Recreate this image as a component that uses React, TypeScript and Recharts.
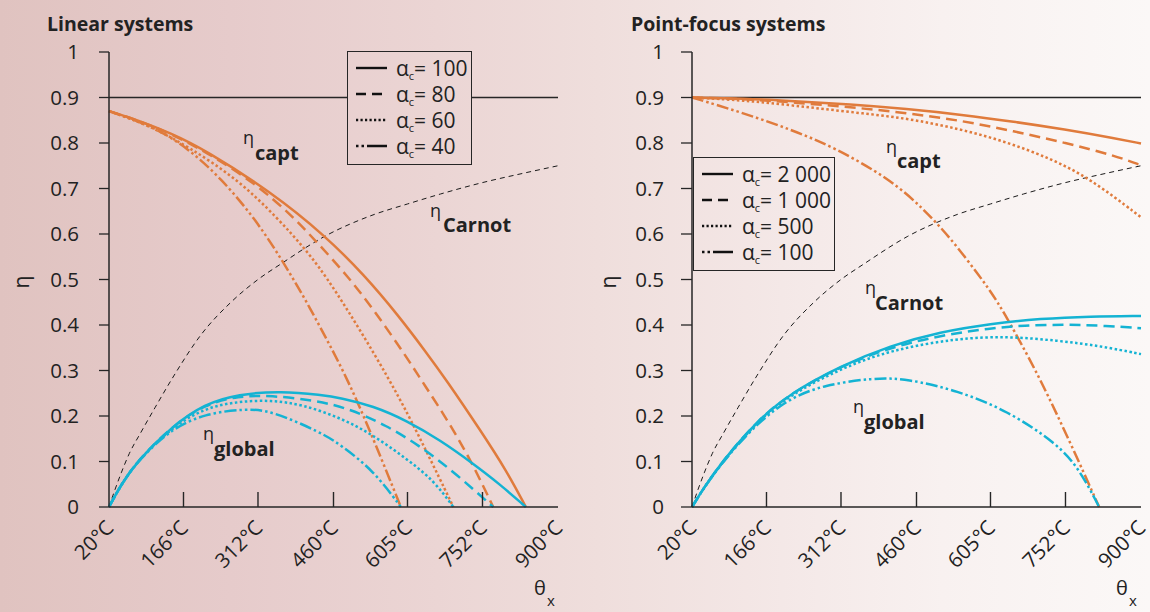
import React from 'react';
import { LineChart, Line, XAxis, YAxis, ReferenceLine } from 'recharts';

type Pt = [number, number];

const thetaTicks = [20, 166, 312, 460, 605, 752, 900];
const etaTicks = [0, 0.1, 0.2, 0.3, 0.4, 0.5, 0.6, 0.7, 0.8, 0.9, 1];

const linearAlphas = ['100', '80', '60', '40'];
const pointAlphas = ['2 000', '1 000', '500', '100'];

// Carnot efficiency, same for both panels
const carnot: Pt[] = [[20, 0], [32, 0.039], [44, 0.075], [60, 0.118], [82, 0.163], [110, 0.218], [148, 0.29], [200, 0.378], [259, 0.45], [312, 0.5], [358, 0.535], [443, 0.595], [540, 0.643], [605, 0.666], [670, 0.688], [752, 0.713], [830, 0.733], [900, 0.75]];

// linear systems: capture efficiency (alpha_c = 100, 80, 60, 40)
const linCapt100: Pt[] = [[20, 0.87], [77, 0.85], [142, 0.821], [208, 0.785], [338, 0.692], [443, 0.597], [521, 0.509], [587, 0.421], [639, 0.344], [682, 0.278], [747, 0.17], [799, 0.08], [837, 0]];
const linCapt80: Pt[] = [[20, 0.87], [77, 0.85], [142, 0.82], [208, 0.782], [306, 0.712], [378, 0.641], [430, 0.579], [489, 0.506], [541, 0.43], [600, 0.335], [639, 0.267], [688, 0.183], [734, 0.092], [773, 0]];
const linCapt60: Pt[] = [[20, 0.87], [100, 0.838], [175, 0.792], [273, 0.72], [351, 0.634], [404, 0.568], [456, 0.492], [574, 0.275], [639, 0.13], [695, 0]];
const linCapt40: Pt[] = [[20, 0.87], [110, 0.835], [175, 0.788], [240, 0.722], [306, 0.634], [358, 0.545], [404, 0.458], [446, 0.37], [489, 0.278], [540, 0.145], [592, 0]];

// linear systems: global efficiency
const linGlob100: Pt[] = [[20, 0], [44, 0.05], [77, 0.103], [142, 0.176], [208, 0.227], [273, 0.248], [358, 0.255], [437, 0.246], [473, 0.24], [538, 0.222], [603, 0.19], [669, 0.147], [734, 0.095], [786, 0.05], [837, 0]];
const linGlob80: Pt[] = [[20, 0], [44, 0.05], [77, 0.103], [142, 0.176], [208, 0.226], [273, 0.244], [338, 0.245], [420, 0.235], [487, 0.218], [563, 0.18], [635, 0.13], [700, 0.073], [773, 0]];
const linGlob60: Pt[] = [[20, 0], [44, 0.05], [77, 0.103], [142, 0.174], [208, 0.218], [273, 0.232], [338, 0.235], [400, 0.225], [476, 0.195], [538, 0.158], [603, 0.106], [656, 0.059], [695, 0]];
const linGlob40: Pt[] = [[20, 0], [44, 0.05], [77, 0.102], [142, 0.172], [208, 0.205], [286, 0.216], [338, 0.212], [437, 0.163], [473, 0.137], [538, 0.081], [592, 0]];

// point-focus systems: capture efficiency (alpha_c = 2000, 1000, 500, 100)
const ptCapt2000: Pt[] = [[20, 0.9], [120, 0.898], [220, 0.892], [330, 0.885], [440, 0.875], [550, 0.862], [650, 0.847], [750, 0.83], [850, 0.81], [900, 0.799]];
const ptCapt1000: Pt[] = [[20, 0.9], [120, 0.897], [220, 0.889], [330, 0.879], [440, 0.866], [550, 0.849], [650, 0.826], [750, 0.801], [850, 0.772], [900, 0.751]];
const ptCapt500: Pt[] = [[20, 0.9], [120, 0.894], [223, 0.882], [330, 0.868], [439, 0.855], [540, 0.832], [630, 0.805], [725, 0.765], [800, 0.722], [900, 0.637]];
const ptCapt100: Pt[] = [[20, 0.9], [115, 0.868], [213, 0.83], [300, 0.79], [409, 0.72], [474, 0.655], [526, 0.592], [582, 0.51], [618, 0.454], [660, 0.37], [703, 0.28], [760, 0.145], [818, 0]];

// point-focus systems: global efficiency
const ptGlob2000: Pt[] = [[20, 0], [43, 0.042], [82, 0.104], [148, 0.19], [213, 0.25], [311, 0.31], [409, 0.355], [507, 0.385], [605, 0.403], [703, 0.414], [801, 0.419], [900, 0.42]];
const ptGlob1000: Pt[] = [[20, 0], [43, 0.042], [82, 0.104], [148, 0.19], [213, 0.25], [311, 0.309], [409, 0.351], [507, 0.377], [605, 0.393], [670, 0.399], [750, 0.401], [820, 0.399], [900, 0.393]];
const ptGlob500: Pt[] = [[20, 0], [43, 0.042], [82, 0.103], [148, 0.188], [213, 0.247], [311, 0.304], [409, 0.345], [540, 0.371], [638, 0.375], [736, 0.366], [820, 0.354], [900, 0.336]];
const ptGlob100: Pt[] = [[20, 0], [43, 0.042], [82, 0.102], [148, 0.185], [213, 0.24], [278, 0.268], [376, 0.284], [441, 0.282], [540, 0.256], [638, 0.212], [736, 0.139], [780, 0.082], [818, 0]];

const ORANGE = '#e07b3c';
const CYAN = '#14b3d3';
const INK = '#262626';
const DASHES = [undefined, '11 6', '2.5 2.5', '12 3 2.5 3 2.5 3'];
const LEGEND_DASHES = [undefined, '10 6', '2.2 2.3', '2.5 3 2.5 3 20 0'];

const BG =
  'linear-gradient(90deg, #e0c3c0 0%, #e6cbcb 20%, #ebd5d4 38%, #efdedc 52%, #f4e8e7 68%, #f8f1f0 82%, #fbf8f7 100%)';

const rows = (pts: Pt[]) => pts.map(([t, v]) => ({ t, v }));

function ThetaTick(props: any) {
  const { x, y, payload } = props;
  const inner = payload.value !== 20 && payload.value !== 900;
  const ax = x + 6;
  const ay = y + 22;
  return (
    <g>
      {inner && <line x1={x} y1={y} x2={x} y2={y - 15} stroke={INK} strokeWidth={1.4} />}
      <text x={ax} y={ay} textAnchor="end" fontSize={20.5} fill="#222" transform={`rotate(-45 ${ax} ${ay})`}>
        {payload.value}°C
      </text>
    </g>
  );
}

interface PanelProps {
  left: number;
  yWidth: number;
  right: number;
  tickSize: number;
  tickMargin: number;
  capt: Pt[][];
  glob: Pt[][];
}

function Panel({ left, yWidth, right, tickSize, tickMargin, capt, glob }: PanelProps) {
  return (
    <div style={{ position: 'absolute', left, top: 0 }}>
      <LineChart width={575} height={612} margin={{ top: 52, right, bottom: 0, left: 0 }}>
        <XAxis
          dataKey="t"
          type="number"
          domain={[20, 900]}
          ticks={thetaTicks}
          interval={0}
          height={105}
          tick={<ThetaTick />}
          tickLine={false}
          tickSize={0}
          tickMargin={0}
          axisLine={{ stroke: INK, strokeWidth: 1.5 }}
        />
        <YAxis
          type="number"
          domain={[0, 1]}
          ticks={etaTicks}
          interval={0}
          width={yWidth}
          tickSize={tickSize}
          tickMargin={tickMargin}
          tick={{ fill: '#222', fontSize: 20.5 }}
          tickLine={{ stroke: INK, strokeWidth: 1.3 }}
          axisLine={{ stroke: INK, strokeWidth: 1.5 }}
        />
        <ReferenceLine y={0.9} stroke={INK} strokeWidth={1.3} />
        <Line
          data={rows(carnot)}
          dataKey="v"
          type="monotone"
          stroke="#1a1a1a"
          strokeWidth={1}
          strokeDasharray="5 4"
          dot={false}
          isAnimationActive={false}
        />
        {capt.map((s, i) => (
          <Line
            key={'c' + i}
            data={rows(s)}
            dataKey="v"
            type="basis"
            stroke={ORANGE}
            strokeWidth={2.5}
            strokeDasharray={DASHES[i]}
            dot={false}
            isAnimationActive={false}
          />
        ))}
        {glob.map((s, i) => (
          <Line
            key={'g' + i}
            data={rows(s)}
            dataKey="v"
            type="basis"
            stroke={CYAN}
            strokeWidth={2.5}
            strokeDasharray={DASHES[i]}
            dot={false}
            isAnimationActive={false}
          />
        ))}
      </LineChart>
    </div>
  );
}

function AlphaLegend({ left, top, width, labels }: { left: number; top: number; width: number; labels: string[] }) {
  return (
    <div
      style={{
        position: 'absolute',
        left,
        top,
        width,
        height: 114,
        boxSizing: 'border-box',
        border: `1.5px solid ${INK}`,
        background: BG,
        backgroundSize: '1150px 612px',
        backgroundPosition: `${-left}px ${-top}px`,
        paddingTop: 3,
      }}
    >
      {labels.map((lab, i) => (
        <div key={lab} style={{ display: 'flex', alignItems: 'center', height: 26, paddingLeft: 8 }}>
          <svg width={31} height={8}>
            <line x1={0} y1={4} x2={31} y2={4} stroke="#111" strokeWidth={2.4} strokeDasharray={LEGEND_DASHES[i]} />
          </svg>
          <span style={{ marginLeft: 9, fontSize: 21, lineHeight: '26px', color: '#222', whiteSpace: 'nowrap' }}>
            α<sub style={{ fontSize: 11, verticalAlign: '-4px', lineHeight: 0 }}>c</sub>= {lab}
          </span>
        </div>
      ))}
    </div>
  );
}

function EtaNote({ x, y, sub, sx, sy }: { x: number; y: number; sub: string; sx: number; sy: number }) {
  return (
    <g fill="#222">
      <text x={x} y={y} fontSize={18}>η</text>
      <text x={sx} y={sy} fontSize={20} fontWeight={700}>{sub}</text>
    </g>
  );
}

export default function App() {
  return (
    <div
      style={{
        position: 'absolute',
        left: 0,
        top: 0,
        width: 1150,
        height: 612,
        overflow: 'hidden',
        background: BG,
        fontFamily: '"Open Sans", "Noto Sans", sans-serif',
      }}
    >
      <Panel
        left={0}
        yWidth={109}
        right={17}
        tickSize={10}
        tickMargin={20}
        capt={[linCapt100, linCapt80, linCapt60, linCapt40]}
        glob={[linGlob100, linGlob80, linGlob60, linGlob40]}
      />
      <Panel
        left={575}
        yWidth={117}
        right={9}
        tickSize={11}
        tickMargin={17}
        capt={[ptCapt2000, ptCapt1000, ptCapt500, ptCapt100]}
        glob={[ptGlob2000, ptGlob1000, ptGlob500, ptGlob100]}
      />

      <AlphaLegend left={347} top={51} width={125} labels={linearAlphas} />
      <AlphaLegend left={693} top={157} width={142} labels={pointAlphas} />

      <svg width={1150} height={612} style={{ position: 'absolute', left: 0, top: 0, pointerEvents: 'none' }}>
        <g fill="#222">
          <text x={47} y={31} fontSize={19.5} fontWeight={700}>Linear systems</text>
          <text x={631} y={31} fontSize={19.5} fontWeight={700}>Point-focus systems</text>

          <text x={21} y={282} fontSize={21} textAnchor="middle" dominantBaseline="central" transform="rotate(-90 21 282)">η</text>
          <text x={608} y={282} fontSize={21} textAnchor="middle" dominantBaseline="central" transform="rotate(-90 608 282)">η</text>

          <text x={534} y={595} fontSize={20}>θ</text>
          <text x={547} y={606} fontSize={15}>x</text>
          <text x={1116} y={595} fontSize={20}>θ</text>
          <text x={1129} y={606} fontSize={15}>x</text>
        </g>

        <EtaNote x={243} y={144} sub="capt" sx={255} sy={160} />
        <EtaNote x={430} y={217} sub="Carnot" sx={443} sy={232} />
        <EtaNote x={203} y={440} sub="global" sx={214} sy={456} />

        <EtaNote x={886} y={153} sub="capt" sx={897} sy={168} />
        <EtaNote x={865} y={294} sub="Carnot" sx={875} sy={310} />
        <EtaNote x={853} y={413} sub="global" sx={864} sy={429} />
      </svg>
    </div>
  );
}
